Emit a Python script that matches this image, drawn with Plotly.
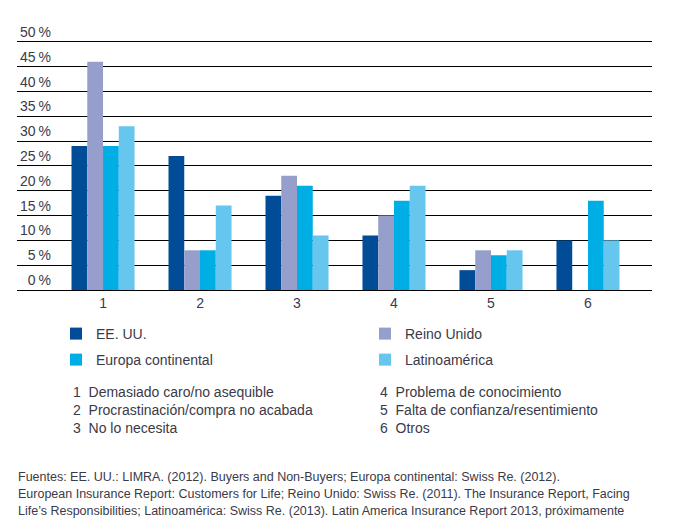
import plotly.graph_objects as go

categories = ["1", "2", "3", "4", "5", "6"]
series_names = ["EE. UU.", "Reino Unido", "Europa continental", "Latinoamérica"]
ee_uu = [29, 27, 19, 11, 4, 10]
reino_unido = [46, 8, 23, 15, 8, None]
europa = [29, 8, 21, 18, 7, 18]
latam = [33, 17, 11, 21, 8, 10]
y_ticks = [0, 5, 10, 15, 20, 25, 30, 35, 40, 45, 50]
# figure space pads one-digit labels so the labels line up on the right
y_tick_labels = [("\u2007" if v < 10 else "") + f"{v}\u2009%" for v in y_ticks]
category_labels_left = ["1  Demasiado caro/no asequible",
                        "2  Procrastinación/compra no acabada",
                        "3  No lo necesita"]
category_labels_right = ["4  Problema de conocimiento",
                         "5  Falta de confianza/resentimiento",
                         "6  Otros"]
source_lines = [
    "Fuentes: EE. UU.: LIMRA. (2012). Buyers and Non-Buyers; Europa continental: Swiss Re. (2012).",
    "European Insurance Report: Customers for Life; Reino Unido: Swiss Re. (2011). The Insurance Report, Facing",
    "Life’s Responsibilities; Latinoamérica: Swiss Re. (2013). Latin America Insurance Report 2013, próximamente",
]

colors = ["#004C97", "#969FCB", "#00AEE6", "#66C6EE"]
legend_ids = ["legend", "legend", "legend2", "legend2"]
FONT = "Liberation Sans, Arial, sans-serif"
TXT = "#3a3a48"

fig = go.Figure()
for name, vals, col, lg in zip(series_names, [ee_uu, reino_unido, europa, latam],
                               colors, legend_ids):
    fig.add_trace(go.Bar(x=categories, y=vals, name=name, marker_color=col,
                         marker_line_width=0, legend=lg))

W, H = 685, 529
Y_MAX = 55
PLOT_BOTTOM = 282   # px from top of figure
PLOT_H = 273        # 4.96 px per percentage point
PLOT_L = 9
PLOT_W = 635


def py(yfig):
    return -(yfig - PLOT_BOTTOM) / PLOT_H


def px(xfig):
    return (xfig - PLOT_L) / PLOT_W


legend_common = dict(orientation="h", xref="container", yref="container",
                     xanchor="left", yanchor="top",
                     entrywidth=264, entrywidthmode="pixels",
                     font=dict(size=14, color=TXT), traceorder="normal",
                     bgcolor="rgba(0,0,0,0)", itemclick=False)

fig.update_layout(
    width=W, height=H,
    margin=dict(l=PLOT_L, r=W - PLOT_L - PLOT_W, t=PLOT_BOTTOM - PLOT_H,
                b=H - PLOT_BOTTOM, autoexpand=False),
    paper_bgcolor="white", plot_bgcolor="white",
    barmode="group", bargap=0.35, bargroupgap=0,
    font=dict(family=FONT, size=14, color=TXT),
    xaxis=dict(type="category", range=[-0.887, 5.66], showgrid=False,
               showline=False, zeroline=False, ticks="", automargin=False,
               ticklabelstandoff=3,
               tickfont=dict(size=14, color=TXT)),
    yaxis=dict(range=[0, Y_MAX], tickvals=y_ticks, ticktext=y_tick_labels,
               showgrid=True, gridcolor="black", gridwidth=1,
               zeroline=True, zerolinecolor="black", zerolinewidth=1,
               showline=False, ticks="", ticklabelposition="inside top",
               automargin=False, tickfont=dict(size=14, color=TXT)),
    legend=dict(x=48 / W, y=1 - 310 / H, **legend_common),
    legend2=dict(x=48 / W, y=1 - 336 / H, **legend_common),
    showlegend=True,
)

fig.add_annotation(text="<br>".join(category_labels_left), xref="paper", yref="paper",
                   x=0.085, y=py(374), xanchor="left", yanchor="top", showarrow=False,
                   align="left", font=dict(size=14, color=TXT))
fig.add_annotation(text="<br>".join(category_labels_right), xref="paper", yref="paper",
                   x=0.568, y=py(374), xanchor="left", yanchor="top", showarrow=False,
                   align="left", font=dict(size=14, color=TXT))
for line, yf in zip(source_lines, [469, 486, 503]):
    fig.add_annotation(text=line, xref="paper", yref="paper",
                       x=px(8), y=py(yf), xanchor="left", yanchor="middle",
                       showarrow=False, align="left",
                       font=dict(size=12.5, color=TXT))

fig.write_html("out.html")
